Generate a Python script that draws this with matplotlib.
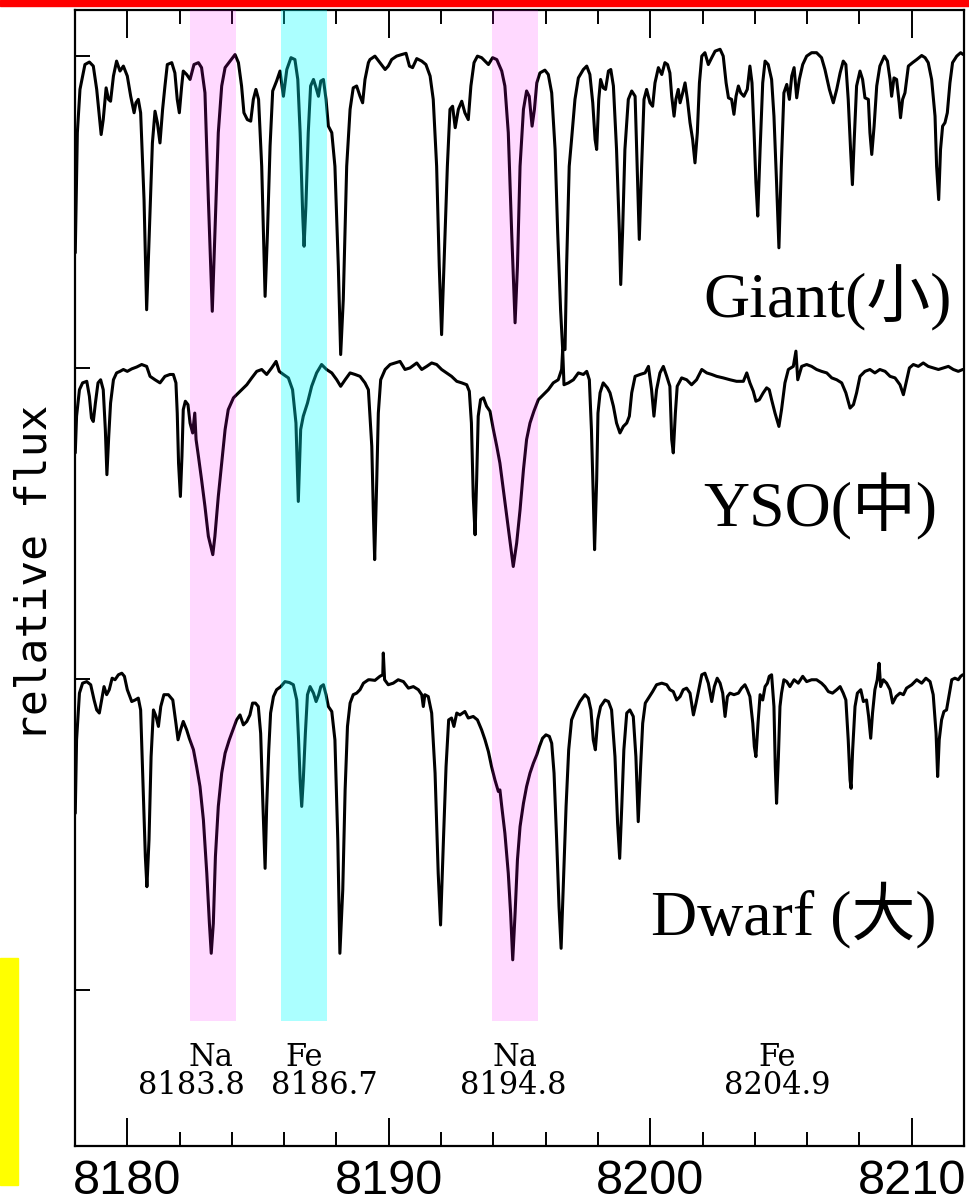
import numpy as np
import matplotlib.pyplot as plt
from matplotlib.patches import Rectangle
from matplotlib.ticker import MultipleLocator

# Normalised spectra (wavelength in Angstrom, continuum ~ 1)
giant_wave = [
    8178.01, 8178.09, 8178.19, 8178.38, 8178.55, 8178.70, 8178.83, 8179.00, 8179.08, 8179.19,
    8179.28, 8179.36, 8179.47, 8179.59, 8179.72, 8179.85, 8180.00, 8180.13, 8180.26, 8180.33,
    8180.42, 8180.51, 8180.64, 8180.74, 8180.84, 8180.96, 8181.06, 8181.15, 8181.25, 8181.35,
    8181.44, 8181.53, 8181.70, 8181.82, 8181.91, 8181.99, 8182.08, 8182.14, 8182.27, 8182.40,
    8182.55, 8182.72, 8182.84, 8182.97, 8183.10, 8183.25, 8183.35, 8183.48, 8183.61, 8183.74,
    8183.93, 8184.12, 8184.25, 8184.37, 8184.46, 8184.59, 8184.72, 8184.82, 8184.92, 8185.02,
    8185.14, 8185.27, 8185.36, 8185.46, 8185.56, 8185.71, 8185.84, 8185.97, 8186.10, 8186.26,
    8186.41, 8186.52, 8186.61, 8186.71, 8186.76, 8186.83, 8186.92, 8187.01, 8187.12, 8187.22,
    8187.31, 8187.40, 8187.50, 8187.60, 8187.69, 8187.82, 8187.94, 8188.07, 8188.16, 8188.26,
    8188.39, 8188.52, 8188.64, 8188.77, 8188.90, 8189.00, 8189.09, 8189.22,
    8189.28, 8189.47, 8189.66, 8189.86, 8189.98, 8190.11, 8190.30, 8190.49, 8190.66, 8190.79,
    8190.91, 8191.07, 8191.26, 8191.42, 8191.58, 8191.70, 8191.83, 8191.93, 8192.02, 8192.11,
    8192.24, 8192.34, 8192.44, 8192.54, 8192.66, 8192.79, 8192.91, 8193.04, 8193.14, 8193.26,
    8193.39, 8193.55, 8193.68, 8193.81, 8193.97, 8194.13, 8194.32, 8194.44, 8194.57, 8194.70,
    8194.83, 8194.92, 8195.02, 8195.15, 8195.27, 8195.37, 8195.48, 8195.57, 8195.66, 8195.78,
    8195.97, 8196.10, 8196.23, 8196.36, 8196.46, 8196.57, 8196.65, 8196.74, 8196.80, 8196.90,
    8196.99, 8197.12, 8197.25, 8197.44, 8197.57, 8197.69, 8197.80, 8197.89, 8197.95, 8198.03,
    8198.10, 8198.20, 8198.29, 8198.40, 8198.49, 8198.59, 8198.71, 8198.82, 8198.87, 8198.94,
    8199.03, 8199.16, 8199.29, 8199.42, 8199.48, 8199.58, 8199.67, 8199.76, 8199.86, 8199.99,
    8200.09, 8200.18, 8200.31, 8200.44, 8200.56, 8200.66, 8200.75,
    8200.82, 8200.91, 8200.98, 8201.07, 8201.14, 8201.24, 8201.33, 8201.42, 8201.52, 8201.62,
    8201.71, 8201.80, 8201.88, 8201.97, 8202.09, 8202.22, 8202.35, 8202.48, 8202.67, 8202.79,
    8202.90, 8202.99, 8203.11, 8203.20, 8203.28, 8203.37, 8203.46, 8203.58, 8203.71, 8203.81,
    8203.89, 8203.97, 8204.04, 8204.11, 8204.20, 8204.30, 8204.39, 8204.51, 8204.64, 8204.73,
    8204.83, 8204.92, 8205.01, 8205.11, 8205.22, 8205.32, 8205.41, 8205.50, 8205.60, 8205.70,
    8205.83, 8205.98, 8206.17, 8206.36, 8206.55, 8206.68, 8206.85, 8207.00, 8207.13, 8207.26,
    8207.38, 8207.48, 8207.57, 8207.66, 8207.73, 8207.80, 8207.89, 8208.02, 8208.12, 8208.21,
    8208.34, 8208.40, 8208.47, 8208.56, 8208.66, 8208.78, 8208.95, 8209.07, 8209.17, 8209.23,
    8209.32, 8209.42, 8209.52, 8209.57, 8209.65, 8209.74, 8209.87, 8210.03, 8210.19, 8210.38,
    8210.51, 8210.63, 8210.76, 8210.89, 8210.95, 8211.03, 8211.10, 8211.18, 8211.27, 8211.36,
    8211.46, 8211.56, 8211.72, 8211.87, 8211.97,
]
giant_flux = [
    0.369, 0.755, 0.894, 0.974, 0.982, 0.969, 0.894, 0.749, 0.797, 0.899,
    0.862, 0.856, 0.937, 0.985, 0.953, 0.969, 0.937, 0.872, 0.819, 0.851,
    0.862, 0.819, 0.540, 0.186, 0.433, 0.722, 0.824, 0.787, 0.722, 0.830,
    0.905, 0.974, 0.980, 0.947, 0.862, 0.819, 0.905, 0.953, 0.942, 0.926,
    0.974, 0.980, 0.964, 0.883, 0.540, 0.181, 0.433, 0.755, 0.905, 0.964,
    0.985, 1.006, 0.980, 0.905, 0.819, 0.797, 0.792, 0.862, 0.894, 0.862,
    0.647, 0.229, 0.433, 0.712, 0.889, 0.921, 0.953, 0.872, 0.958, 0.996,
    0.990, 0.926, 0.755, 0.487, 0.390, 0.519, 0.755, 0.905, 0.926, 0.899,
    0.872, 0.921, 0.926, 0.862, 0.776, 0.755, 0.647, 0.326, 0.042, 0.219,
    0.647, 0.830, 0.899, 0.905, 0.872, 0.851, 0.926, 0.980,
    0.990, 1.001, 0.980, 0.958, 0.969, 0.990, 1.001, 1.006, 1.010, 0.969,
    0.964, 0.993, 0.985, 0.974, 0.937, 0.862, 0.647, 0.326, 0.106, 0.326,
    0.647, 0.830, 0.840, 0.771, 0.830, 0.856, 0.819, 0.797, 0.905, 0.980,
    1.001, 0.996, 0.985, 0.974, 0.996, 0.990, 0.953, 0.905, 0.755, 0.433,
    0.144, 0.326, 0.647, 0.830, 0.889, 0.872, 0.776, 0.830, 0.915, 0.947,
    0.956, 0.942, 0.883, 0.701, 0.433, 0.186, 0.058, 0.058, 0.326, 0.647,
    0.733, 0.862, 0.931, 0.958, 0.969, 0.942, 0.851, 0.733, 0.701, 0.862,
    0.926, 0.899, 0.894, 0.953, 0.958, 0.905, 0.701, 0.433, 0.267, 0.433,
    0.701, 0.862, 0.889, 0.872, 0.701, 0.412, 0.647, 0.862, 0.894, 0.851,
    0.840, 0.915, 0.964, 0.942, 0.980, 0.974, 0.947,
    0.872, 0.808, 0.862, 0.894, 0.851, 0.883, 0.915, 0.862, 0.787, 0.733,
    0.658, 0.755, 0.915, 1.001, 1.012, 0.974, 0.996, 1.017, 1.023, 1.001,
    0.915, 0.867, 0.862, 0.814, 0.872, 0.905, 0.883, 0.872, 0.894, 0.969,
    0.915, 0.755, 0.594, 0.487, 0.701, 0.915, 0.985, 0.974, 0.926, 0.808,
    0.594, 0.385, 0.647, 0.883, 0.910, 0.862, 0.937, 0.964, 0.867, 0.926,
    0.974, 1.001, 1.012, 1.012, 0.996, 0.958, 0.894, 0.851, 0.894, 0.947,
    0.985, 0.974, 0.862, 0.701, 0.588, 0.733, 0.905, 0.953, 0.926, 0.867,
    0.862, 0.755, 0.685, 0.776, 0.905, 0.969, 1.001, 0.985, 0.926, 0.872,
    0.931, 0.926, 0.851, 0.803, 0.862, 0.883, 0.969, 0.980, 0.990, 1.003,
    0.996, 0.980, 0.926, 0.808, 0.647, 0.540, 0.701, 0.776, 0.787, 0.819,
    0.915, 0.980, 1.001, 1.012, 1.006,
]

yso_wave = [
    8178.01, 8178.06, 8178.17, 8178.29, 8178.45, 8178.55, 8178.63, 8178.70, 8178.78, 8178.88,
    8178.98, 8179.08, 8179.16, 8179.22, 8179.29, 8179.36, 8179.47, 8179.59, 8179.72, 8179.85,
    8180.00, 8180.17, 8180.36, 8180.55, 8180.74, 8180.87, 8181.06, 8181.25, 8181.44, 8181.63,
    8181.76, 8181.86, 8181.91, 8181.96, 8182.03, 8182.09, 8182.14, 8182.22, 8182.32, 8182.40,
    8182.50, 8182.58, 8182.63, 8182.72, 8182.84, 8182.97, 8183.10, 8183.27, 8183.35, 8183.48,
    8183.61, 8183.74, 8183.86, 8184.06, 8184.18, 8184.37, 8184.57, 8184.76, 8184.95, 8185.14,
    8185.33, 8185.52, 8185.69, 8185.81, 8185.97, 8186.16, 8186.32, 8186.45, 8186.54, 8186.63,
    8186.73, 8186.89, 8187.05, 8187.24, 8187.43, 8187.62, 8187.82, 8188.01, 8188.16, 8188.33,
    8188.52, 8188.71, 8188.90, 8189.09, 8189.22,
    8189.35, 8189.41, 8189.46, 8189.54, 8189.60, 8189.69, 8189.86, 8190.05, 8190.24, 8190.43,
    8190.62, 8190.81, 8191.07, 8191.26, 8191.45, 8191.64, 8191.83, 8192.02, 8192.21, 8192.40,
    8192.60, 8192.79, 8192.98, 8193.08, 8193.16, 8193.23, 8193.30, 8193.36, 8193.42, 8193.51,
    8193.62, 8193.74, 8193.87, 8194.00, 8194.13, 8194.25, 8194.38, 8194.51, 8194.64, 8194.76,
    8194.89, 8195.02, 8195.15, 8195.27, 8195.40, 8195.55, 8195.72, 8195.91, 8196.10, 8196.29,
    8196.48, 8196.61, 8196.65, 8196.70, 8196.87, 8197.06, 8197.25, 8197.44, 8197.57, 8197.67,
    8197.75, 8197.82, 8197.87, 8197.95, 8198.00, 8198.08, 8198.20, 8198.36, 8198.46, 8198.59,
    8198.71, 8198.84, 8198.97, 8199.10, 8199.20, 8199.29, 8199.42, 8199.61, 8199.80, 8199.93,
    8200.05, 8200.14, 8200.24, 8200.37, 8200.50, 8200.63, 8200.75,
    8200.82, 8200.88, 8200.96, 8201.03, 8201.20, 8201.39, 8201.58, 8201.77, 8201.97, 8202.16,
    8202.35, 8202.54, 8202.79, 8203.05, 8203.30, 8203.56, 8203.69, 8203.81, 8203.94, 8204.04,
    8204.17, 8204.32, 8204.45, 8204.55, 8204.64, 8204.77, 8204.92, 8205.02, 8205.15, 8205.28,
    8205.47, 8205.57, 8205.64, 8205.79, 8205.98, 8206.17, 8206.36, 8206.55, 8206.75, 8206.94,
    8207.13, 8207.32, 8207.48, 8207.64, 8207.77, 8207.89, 8208.02, 8208.21, 8208.40, 8208.59,
    8208.78, 8208.98, 8209.17, 8209.36, 8209.55, 8209.68, 8209.78, 8209.91, 8210.06, 8210.25,
    8210.44, 8210.63, 8210.82, 8211.02, 8211.21, 8211.40, 8211.59, 8211.78, 8211.95,
]
yso_flux = [
    0.726, 0.844, 0.929, 0.951, 0.956, 0.908, 0.838, 0.827, 0.886, 0.951,
    0.961, 0.929, 0.801, 0.656, 0.779, 0.886, 0.961, 0.983, 0.988, 0.994,
    0.988, 0.996, 1.002, 1.010, 1.004, 0.972, 0.961, 0.951, 0.972, 0.978,
    0.978, 0.951, 0.854, 0.693, 0.586, 0.715, 0.865, 0.892, 0.881, 0.822,
    0.790, 0.854, 0.769, 0.715, 0.640, 0.554, 0.458, 0.399, 0.458, 0.586,
    0.693, 0.801, 0.865, 0.903, 0.913, 0.929, 0.945, 0.967, 0.988, 0.994,
    0.978, 0.999, 1.020, 0.988, 0.978, 0.967, 0.929, 0.822, 0.570, 0.801,
    0.844, 0.886, 0.940, 0.983, 1.010, 0.994, 0.983, 0.961, 0.940, 0.961,
    0.983, 0.978, 0.972, 0.951, 0.929,
    0.747, 0.533, 0.383, 0.640, 0.854, 0.961, 0.994, 1.010, 1.015, 1.020,
    0.994, 0.999, 1.015, 0.994, 1.004, 1.015, 1.010, 0.994, 0.983, 0.972,
    0.956, 0.951, 0.945, 0.924, 0.822, 0.586, 0.463, 0.640, 0.844, 0.897,
    0.903, 0.876, 0.860, 0.801, 0.747, 0.693, 0.608, 0.522, 0.436, 0.361,
    0.436, 0.543, 0.672, 0.769, 0.822, 0.860, 0.897, 0.913, 0.929, 0.951,
    0.961, 0.994, 1.058, 0.945, 0.951, 0.961, 0.983, 0.978, 0.988, 0.961,
    0.801, 0.586, 0.415, 0.640, 0.854, 0.919, 0.951, 0.935, 0.919, 0.876,
    0.822, 0.790, 0.811, 0.822, 0.844, 0.919, 0.972, 0.978, 0.983, 1.004,
    0.929, 0.844, 0.929, 0.983, 1.004, 0.972, 0.940,
    0.769, 0.726, 0.854, 0.940, 0.967, 0.961, 0.945, 0.961, 0.994, 0.983,
    0.978, 0.972, 0.967, 0.961, 0.956, 0.956, 0.983, 0.951, 0.924, 0.892,
    0.897, 0.919, 0.935, 0.929, 0.897, 0.854, 0.811, 0.865, 0.951, 0.994,
    1.004, 1.053, 0.961, 1.004, 1.010, 1.004, 0.994, 0.988, 0.983, 0.967,
    0.961, 0.951, 0.919, 0.870, 0.881, 0.919, 0.972, 0.988, 0.994, 0.983,
    0.994, 0.988, 0.972, 0.967, 0.945, 0.913, 0.951, 0.999, 1.010, 1.004,
    1.015, 1.004, 0.999, 0.994, 0.999, 1.004, 0.994, 0.988, 0.994,
]

dwarf_wave = [
    8178.01, 8178.06, 8178.17, 8178.29, 8178.45, 8178.60, 8178.73, 8178.83, 8178.93, 8179.02,
    8179.11, 8179.21, 8179.31, 8179.42, 8179.53, 8179.66, 8179.79, 8179.89, 8180.00, 8180.17,
    8180.30, 8180.42, 8180.51, 8180.61, 8180.69, 8180.75, 8180.83, 8180.91, 8181.00, 8181.10,
    8181.19, 8181.28, 8181.40, 8181.57, 8181.74, 8181.86, 8181.94, 8182.04, 8182.14, 8182.27,
    8182.37, 8182.53, 8182.65, 8182.78, 8182.91, 8183.04, 8183.14, 8183.21, 8183.29, 8183.37,
    8183.48, 8183.61, 8183.74, 8183.90, 8184.06, 8184.18, 8184.31, 8184.44, 8184.57, 8184.69,
    8184.79, 8184.90, 8185.01, 8185.10, 8185.18, 8185.27, 8185.33, 8185.41, 8185.48, 8185.59,
    8185.71, 8185.87, 8186.03, 8186.20, 8186.35, 8186.48, 8186.55, 8186.61, 8186.67, 8186.73,
    8186.81, 8186.89, 8186.99, 8187.12, 8187.22, 8187.32, 8187.40, 8187.50, 8187.60, 8187.69,
    8187.82, 8187.94, 8188.05, 8188.13, 8188.24, 8188.33, 8188.42, 8188.52, 8188.64, 8188.77,
    8188.90, 8189.03, 8189.22,
    8189.28, 8189.47, 8189.66, 8189.77, 8189.79, 8189.84, 8189.98, 8190.17, 8190.36, 8190.56,
    8190.75, 8190.94, 8191.13, 8191.26, 8191.32, 8191.38, 8191.51, 8191.64, 8191.77, 8191.89,
    8191.98, 8192.09, 8192.19, 8192.29, 8192.40, 8192.49, 8192.60, 8192.72, 8192.91, 8193.04,
    8193.23, 8193.39, 8193.55, 8193.68, 8193.81, 8193.93, 8194.06, 8194.19, 8194.25, 8194.32,
    8194.44, 8194.57, 8194.66, 8194.74, 8194.83, 8194.92, 8195.02, 8195.15, 8195.27, 8195.40,
    8195.53, 8195.66, 8195.76, 8195.88, 8196.01, 8196.14, 8196.23, 8196.32, 8196.42, 8196.51,
    8196.59, 8196.67, 8196.78, 8196.88, 8196.99, 8197.12, 8197.31, 8197.50, 8197.63, 8197.73,
    8197.82, 8197.90, 8197.99, 8198.10, 8198.27, 8198.40, 8198.52, 8198.65, 8198.75, 8198.83,
    8198.91, 8198.99, 8199.10, 8199.22, 8199.35, 8199.45, 8199.54, 8199.63, 8199.71, 8199.81,
    8199.93, 8200.09, 8200.24, 8200.44, 8200.63, 8200.75,
    8200.88, 8201.01, 8201.14, 8201.26, 8201.39, 8201.52, 8201.65, 8201.75, 8201.88, 8201.97,
    8202.09, 8202.22, 8202.35, 8202.45, 8202.56, 8202.67, 8202.77, 8202.86, 8202.95, 8203.05,
    8203.20, 8203.37, 8203.49, 8203.62, 8203.71, 8203.81, 8203.92, 8203.98, 8204.04, 8204.12,
    8204.20, 8204.30, 8204.39, 8204.48, 8204.55, 8204.64, 8204.73, 8204.78, 8204.83, 8204.90,
    8204.96, 8205.02, 8205.11, 8205.22, 8205.34, 8205.50, 8205.66, 8205.83, 8205.98, 8206.17,
    8206.36, 8206.55, 8206.68, 8206.81, 8206.97, 8207.13, 8207.26, 8207.38, 8207.48, 8207.57,
    8207.64, 8207.68, 8207.74, 8207.83, 8207.92, 8208.05, 8208.15, 8208.27, 8208.35, 8208.43,
    8208.50, 8208.59, 8208.68, 8208.75, 8208.81, 8208.91, 8209.04, 8209.17, 8209.27, 8209.40,
    8209.55, 8209.68, 8209.80, 8210.00, 8210.19, 8210.38, 8210.54, 8210.70, 8210.82, 8210.93,
    8210.99, 8211.05, 8211.14, 8211.23, 8211.33, 8211.44, 8211.53, 8211.65, 8211.78, 8211.87,
    8211.95,
]
dwarf_flux = [
    0.568, 0.804, 0.954, 0.986, 0.991, 0.981, 0.932, 0.900, 0.890, 0.932,
    0.975, 0.949, 0.965, 1.002, 0.997, 1.013, 1.018, 1.008, 0.965, 0.927,
    0.932, 0.938, 0.900, 0.643, 0.429, 0.332, 0.482, 0.750, 0.900, 0.879,
    0.847, 0.911, 0.949, 0.949, 0.932, 0.857, 0.804, 0.836, 0.863, 0.836,
    0.809, 0.772, 0.718, 0.654, 0.547, 0.375, 0.214, 0.118, 0.214, 0.429,
    0.590, 0.697, 0.761, 0.804, 0.841, 0.868, 0.884, 0.852, 0.863, 0.884,
    0.922, 0.922, 0.911, 0.825, 0.611, 0.391, 0.590, 0.772, 0.890, 0.943,
    0.965, 0.975, 0.991, 0.988, 0.981, 0.932, 0.804, 0.675, 0.590, 0.675,
    0.825, 0.949, 0.975, 0.954, 0.927, 0.949, 0.975, 0.981, 0.949, 0.911,
    0.895, 0.804, 0.482, 0.118, 0.322, 0.643, 0.847, 0.922, 0.949, 0.954,
    0.965, 0.986, 0.997,
    0.997, 0.995, 1.008, 1.013, 1.083, 0.997, 0.981, 0.986, 0.997, 0.991,
    0.970, 0.975, 0.965, 0.949, 0.911, 0.949, 0.943, 0.890, 0.697, 0.375,
    0.209, 0.482, 0.718, 0.868, 0.874, 0.847, 0.890, 0.884, 0.895, 0.874,
    0.879, 0.868, 0.836, 0.804, 0.766, 0.718, 0.675, 0.638, 0.643, 0.590,
    0.504, 0.375, 0.246, 0.097, 0.246, 0.418, 0.525, 0.600, 0.654, 0.697,
    0.729, 0.756, 0.782, 0.809, 0.820, 0.815, 0.793, 0.697, 0.482, 0.268,
    0.134, 0.322, 0.590, 0.772, 0.868, 0.895, 0.927, 0.949, 0.938, 0.900,
    0.804, 0.772, 0.868, 0.911, 0.932, 0.927, 0.900, 0.750, 0.536, 0.423,
    0.590, 0.772, 0.890, 0.900, 0.879, 0.750, 0.541, 0.718, 0.857, 0.922,
    0.938, 0.959, 0.981, 0.986, 0.981, 0.965,
    0.959, 0.932, 0.943, 0.965, 0.970, 0.954, 0.884, 0.922, 0.975, 1.013,
    1.018, 0.986, 0.927, 0.975, 1.002, 0.986, 0.954, 0.879, 0.943, 0.954,
    0.949, 0.954, 0.970, 0.981, 0.965, 0.943, 0.857, 0.782, 0.750, 0.857,
    0.949, 0.932, 0.975, 0.986, 1.008, 1.013, 0.911, 0.718, 0.600, 0.750,
    0.911, 0.954, 0.997, 0.991, 0.975, 0.997, 0.986, 1.008, 0.991, 0.997,
    0.997, 0.986, 0.975, 0.959, 0.954, 0.965, 0.975, 0.954, 0.932, 0.804,
    0.675, 0.648, 0.772, 0.911, 0.954, 0.965, 0.927, 0.932, 0.879, 0.809,
    0.890, 0.965, 0.997, 1.050, 0.975, 0.997, 0.986, 0.965, 0.922, 0.943,
    0.954, 0.949, 0.970, 0.981, 0.997, 0.986, 1.002, 0.991, 0.949, 0.825,
    0.686, 0.804, 0.868, 0.895, 0.900, 0.954, 0.997, 1.002, 0.997, 1.008,
    1.013,
]

star_names = ["Giant(小)", "YSO(中)", "Dwarf (大)"]
star_offsets = [2.0, 1.0, 0.0]

# highlighted line windows
band_lo = [8182.40, 8185.88, 8193.95]
band_hi = [8184.16, 8187.63, 8195.69]
band_colors = ["#ff00ff", "#00ffff", "#ff00ff"]
band_alpha = [0.15, 0.33, 0.15]

line_species = ["Na", "Fe", "Na", "Fe"]
line_labels = ["8183.8", "8186.7", "8194.8", "8204.9"]
species_x = [8183.21, 8186.76, 8194.83, 8204.84]
label_x = [8182.44, 8187.52, 8194.75, 8204.84]

fig = plt.figure(figsize=(9.69, 12.04), dpi=100)
ax = fig.add_axes([0.0774, 0.0485, 0.9175, 0.9434])

spectra = [(giant_wave, giant_flux), (yso_wave, yso_flux), (dwarf_wave, dwarf_flux)]
for (w, f), off in zip(spectra, star_offsets):
    ax.plot(w, np.array(f) + off, color="black", lw=2.2, zorder=2,
            solid_joinstyle="round", solid_capstyle="round")

ymin, ymax = -0.5, 3.15
band_bottom = -0.1
for lo, hi, c, a in zip(band_lo, band_hi, band_colors, band_alpha):
    ax.axvspan(lo, hi, ymin=(band_bottom - ymin) / (ymax - ymin), ymax=1,
               color=c, alpha=a, lw=0, zorder=3)

ax.set_xlim(8178, 8212)
ax.set_ylim(ymin, ymax)

ax.xaxis.set_major_locator(MultipleLocator(10))
ax.xaxis.set_minor_locator(MultipleLocator(2))
ax.tick_params(axis="x", which="both", direction="in", top=True, bottom=True,
               width=1.4, pad=10)
ax.tick_params(axis="x", which="major", length=20)
ax.tick_params(axis="x", which="minor", length=10)
ax.set_yticks([0, 1, 2, 3])
ax.set_yticklabels([])
ax.tick_params(axis="y", direction="in", length=11, width=1.4, right=False)
for lab in ax.get_xticklabels():
    lab.set_family(["Liberation Sans", "DejaVu Sans"])
    lab.set_fontsize(35)
for sp in ax.spines.values():
    sp.set_linewidth(1.6)

# star labels on the right
label_right = [8211.54, 8210.96, 8210.96]
label_base = [2.161, 1.489, 0.177]
for name, x, y in zip(star_names, label_right, label_base):
    ax.text(x, y, name, ha="right", va="baseline", fontsize=46,
            family=["Liberation Serif", "Noto Sans CJK JP"], zorder=4)

# line identifications under the spectra
for sp_name, sx, lab, lx in zip(line_species, species_x, line_labels, label_x):
    ax.text(sx, -0.244, sp_name, ha="center", va="baseline", fontsize=22,
            family="DejaVu Serif", zorder=4)
    ax.text(lx, -0.334, lab, ha="center", va="baseline", fontsize=22,
            family="DejaVu Serif", zorder=4)

fig.text(0.0351, 0.5241, "relative flux", rotation=90, ha="center", va="center",
         fontsize=31, family="DejaVu Sans Mono")

# slide decorations
fig.patches.append(Rectangle((0, 1 - 6 / 1204), 1, 6 / 1204, transform=fig.transFigure,
                             color="#ff0000", zorder=5))
fig.patches.append(Rectangle((0, 1 - 1185 / 1204), 18 / 969, (1185 - 958) / 1204,
                             transform=fig.transFigure, color="#ffff00", zorder=5))

fig.savefig("out.png", dpi=100)
